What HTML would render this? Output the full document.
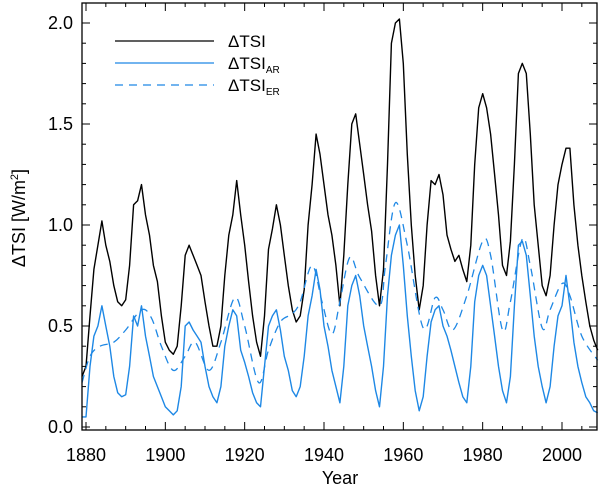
<!DOCTYPE html>
<html><head><meta charset="utf-8"><style>
html,body{margin:0;padding:0;background:#fff}
svg{display:block;font-family:"Liberation Sans","DejaVu Sans",sans-serif}
</style></head><body>
<svg id="chart" width="600" height="488" viewBox="0 0 600 488" xmlns="http://www.w3.org/2000/svg">
<g id="series"></g>
<g id="axes"></g>
<g id="legend">
  <line x1="115" y1="41" x2="214" y2="41" stroke="#000" stroke-width="1.3"/>
  <text x="228" y="47" font-size="17">ΔTSI</text>
  <line x1="115" y1="63" x2="214" y2="63" stroke="#1e88e5" stroke-width="1.3"/>
  <text x="228" y="69" font-size="17">ΔTSI<tspan font-size="10" dy="4">AR</tspan></text>
  <line x1="115" y1="85" x2="214" y2="85" stroke="#1e88e5" stroke-width="1.3" stroke-dasharray="8,6"/>
  <text x="228" y="91" font-size="17">ΔTSI<tspan font-size="10" dy="4">ER</tspan></text>
</g>
</svg>
<script>
const tsiYears = [];
for (let y = 1879; y <= 2009; y++) tsiYears.push(y);
const tsiValues = [0.25,0.3,0.55,0.78,0.9,1.02,0.9,0.82,0.7,0.62,0.6,0.63,0.8,1.1,1.12,1.2,1.05,0.95,0.8,0.72,0.55,0.42,0.38,0.36,0.4,0.6,0.85,0.9,0.85,0.8,0.75,0.62,0.5,0.4,0.4,0.5,0.75,0.95,1.05,1.22,1.05,0.9,0.72,0.55,0.42,0.35,0.55,0.88,0.98,1.1,1.0,0.85,0.7,0.58,0.52,0.55,0.68,1.0,1.2,1.45,1.35,1.2,1.05,0.95,0.8,0.6,0.85,1.2,1.5,1.55,1.4,1.25,1.1,0.97,0.75,0.6,0.78,1.3,1.9,2.0,2.02,1.8,1.35,1.0,0.75,0.58,0.7,1.0,1.22,1.2,1.25,1.15,0.95,0.88,0.82,0.85,0.78,0.72,0.9,1.3,1.58,1.65,1.58,1.45,1.25,1.05,0.8,0.75,0.92,1.3,1.75,1.8,1.75,1.45,1.1,0.9,0.7,0.65,0.75,1.0,1.2,1.3,1.38,1.38,1.1,0.9,0.75,0.62,0.5,0.43,0.38];
const arValues = [0.05,0.05,0.3,0.45,0.5,0.6,0.5,0.4,0.25,0.17,0.15,0.16,0.3,0.55,0.5,0.6,0.45,0.35,0.25,0.2,0.15,0.1,0.08,0.06,0.08,0.2,0.5,0.52,0.48,0.45,0.42,0.3,0.2,0.15,0.12,0.2,0.4,0.5,0.58,0.55,0.38,0.32,0.25,0.17,0.12,0.1,0.3,0.5,0.55,0.58,0.48,0.35,0.28,0.18,0.15,0.2,0.35,0.55,0.65,0.78,0.68,0.5,0.4,0.28,0.2,0.12,0.3,0.6,0.7,0.75,0.65,0.5,0.4,0.3,0.18,0.1,0.3,0.65,0.85,0.95,1.0,0.8,0.55,0.35,0.18,0.08,0.15,0.35,0.52,0.58,0.6,0.5,0.45,0.38,0.3,0.22,0.15,0.12,0.3,0.62,0.75,0.8,0.75,0.6,0.45,0.3,0.18,0.12,0.25,0.6,0.9,0.92,0.85,0.65,0.45,0.3,0.2,0.12,0.2,0.4,0.55,0.6,0.75,0.6,0.42,0.3,0.22,0.15,0.12,0.08,0.07];
const erYears = [1879,1881,1883.5,1887,1890,1894,1896.5,1899,1902,1905,1907.5,1911,1914,1917.5,1920,1923.5,1926,1929,1932,1934,1937,1939.5,1942,1944,1946.5,1949,1954,1955.5,1958,1961,1965,1968,1970,1972.5,1976,1980,1982,1985,1987,1990,1992,1995,1997,2000,2002,2005,2009];
const erValues = [0.22,0.35,0.40,0.42,0.48,0.58,0.54,0.4,0.28,0.35,0.42,0.28,0.42,0.64,0.5,0.22,0.38,0.52,0.56,0.62,0.8,0.62,0.46,0.62,0.84,0.74,0.6,0.8,1.11,0.9,0.49,0.64,0.58,0.48,0.65,0.92,0.85,0.48,0.62,0.93,0.8,0.49,0.58,0.71,0.65,0.45,0.33];
const xTickYears = [1880,1900,1920,1940,1960,1980,2000];
const yTickValues = [0.0,0.5,1.0,1.5,2.0];
const yTickLabels = ["0.0","0.5","1.0","1.5","2.0"];

const L=82,R=597,T=3,B=430;
function xs(yr){return 86+(yr-1880)*(562-86)/120;}
function ys(v){return 427-v*202;}
const NS="http://www.w3.org/2000/svg";
function mk(tag,attrs,parent){const e=document.createElementNS(NS,tag);for(const k in attrs)e.setAttribute(k,attrs[k]);parent.appendChild(e);return e;}
const sg=document.getElementById('series');
const ag=document.getElementById('axes');

let d1=tsiYears.map((y,i)=>(i?'L':'M')+xs(y).toFixed(1)+' '+ys(tsiValues[i]).toFixed(1)).join(' ');
const p1=mk('path',{d:d1,fill:'none',stroke:'#000','stroke-width':1.4,'stroke-linejoin':'round'},sg);



let d2=tsiYears.map((y,i)=>(i?'L':'M')+xs(y).toFixed(1)+' '+ys(arValues[i]).toFixed(1)).join(' ');
const p2=mk('path',{d:d2,fill:'none',stroke:'#1e88e5','stroke-width':1.4,'stroke-linejoin':'round'},sg);



// smooth ER with catmull-rom
const pts=erYears.map((y,i)=>[xs(y),ys(erValues[i])]);
let d3='M'+pts[0][0]+' '+pts[0][1];
for(let i=0;i<pts.length-1;i++){const p0=pts[Math.max(0,i-1)],a=pts[i],b=pts[i+1],p3=pts[Math.min(pts.length-1,i+2)];
 const c1=[a[0]+(b[0]-p0[0])/6,a[1]+(b[1]-p0[1])/6],c2=[b[0]-(p3[0]-a[0])/6,b[1]-(p3[1]-a[1])/6];
 d3+=` C${c1[0].toFixed(1)} ${c1[1].toFixed(1)} ${c2[0].toFixed(1)} ${c2[1].toFixed(1)} ${b[0].toFixed(1)} ${b[1].toFixed(1)}`;}
const p3=mk('path',{d:d3,fill:'none',stroke:'#1e88e5','stroke-width':1.3,'stroke-dasharray':'8,6'},sg);



const frame=mk('rect',{x:L,y:T,width:R-L,height:B-T,fill:'none',stroke:'#000','stroke-width':1.3},ag);



for(let yr=1880;yr<=2009;yr+=5){const x=xs(yr);const len=(yr%20===0)?8:4;
 mk('line',{x1:x,y1:B,x2:x,y2:B-len,stroke:'#000','stroke-width':1},ag);
 mk('line',{x1:x,y1:T,x2:x,y2:T+len,stroke:'#000','stroke-width':1},ag);}
for(let k=0;k<=21;k++){const v=k/10;const y=ys(v);if(y<T)continue;const len=(k%5===0)?8:4;
 mk('line',{x1:L,y1:y,x2:L+len,y2:y,stroke:'#000','stroke-width':1},ag);
 mk('line',{x1:R,y1:y,x2:R-len,y2:y,stroke:'#000','stroke-width':1},ag);}
xTickYears.forEach(yr=>{const t=mk('text',{x:xs(yr),y:461,'text-anchor':'middle','font-size':18},ag);t.textContent=String(yr);
 
 });
yTickValues.forEach((v,i)=>{const t=mk('text',{x:73,y:ys(v)+6,'text-anchor':'end','font-size':18},ag);t.textContent=yTickLabels[i];
 
 });
const xt=mk('text',{x:340,y:484,'text-anchor':'middle','font-size':18},ag);xt.textContent='Year';


const yt=mk('text',{x:0,y:0,'text-anchor':'middle','font-size':18,transform:'translate(25,218) rotate(-90)'},ag);
yt.innerHTML='ΔTSI [W/m<tspan font-size="11" dy="-7">2</tspan><tspan dy="7">]</tspan>';


</script>
</body></html>
